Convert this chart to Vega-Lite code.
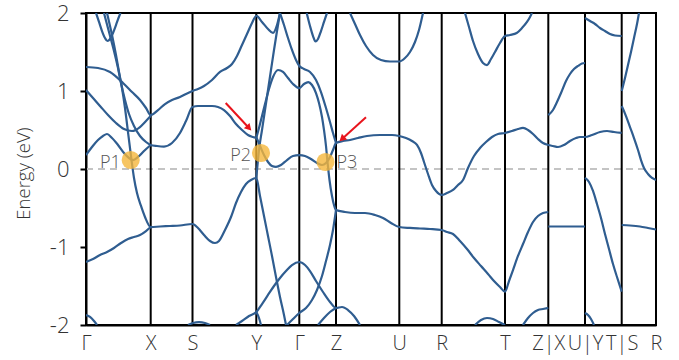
{
  "$schema": "https://vega.github.io/schema/vega-lite/v6.json",
  "width": 570,
  "height": 312,
  "autosize": "none",
  "padding": {"left": 86, "top": 13, "right": 23, "bottom": 35},
  "background": "white",
  "config": {"view": {"stroke": "black", "strokeWidth": 2}, "font": "Open Sans"},
  "datasets": {
    "kpath": [
      {"k": 0, "lab": "Γ"}, {"k": 64.7, "lab": "X"}, {"k": 106.5, "lab": "S"}, {"k": 170.3, "lab": "Y"},
      {"k": 213.3, "lab": "Γ"}, {"k": 250, "lab": "Z"}, {"k": 313.3, "lab": "U"}, {"k": 355.7, "lab": "R"},
      {"k": 419, "lab": "T"}, {"k": 462.3, "lab": "Z|X"}, {"k": 499, "lab": "U|Y"}, {"k": 535.7, "lab": "T|S"},
      {"k": 570, "lab": "R"}
    ],
    "fermi": [{"k": 0, "e": 0}, {"k": 570, "e": 0}],
    "crossings": [
      {"name": "P1", "k": 44.7, "e": 0.115},
      {"name": "P2", "k": 175, "e": 0.205},
      {"name": "P3", "k": 239.5, "e": 0.09}
    ],
    "arrows": [
      {"id": "a1", "k": 139.7, "e": 0.846, "k2": 163, "e2": 0.526},
      {"id": "a2", "k": 280, "e": 0.663, "k2": 256, "e2": 0.385}
    ],
    "bands": [
      {"b":"A","k":0,"e":1.308},{"b":"A","k":12,"e":1.295},{"b":"A","k":24,"e":1.244},{"b":"A","k":37,"e":1.103},{"b":"A","k":46,"e":0.987},{"b":"A","k":54,"e":0.885},{"b":"A","k":60,"e":0.782},{"b":"A","k":64.7,"e":0.692},
      {"b":"A","k":72,"e":0.756},{"b":"A","k":79,"e":0.833},{"b":"A","k":86,"e":0.885},{"b":"A","k":94,"e":0.923},{"b":"A","k":100,"e":0.962},{"b":"A","k":106.5,"e":1.0},
      {"b":"A","k":112,"e":1.026},{"b":"A","k":118,"e":1.064},{"b":"A","k":126,"e":1.141},{"b":"A","k":134,"e":1.244},{"b":"A","k":141,"e":1.295},{"b":"A","k":146,"e":1.346},{"b":"A","k":151,"e":1.449},{"b":"A","k":156,"e":1.59},{"b":"A","k":161,"e":1.731},{"b":"A","k":166,"e":1.872},{"b":"A","k":170.3,"e":1.962},
      {"b":"A","k":176,"e":1.885},{"b":"A","k":182,"e":1.795},{"b":"A","k":187,"e":1.744},{"b":"A","k":191,"e":1.846},{"b":"A","k":194,"e":2.0},

      {"b":"B","k":0,"e":1.013},{"b":"B","k":7,"e":0.91},{"b":"B","k":14,"e":0.808},{"b":"B","k":22,"e":0.692},{"b":"B","k":30,"e":0.59},{"b":"B","k":38,"e":0.513},{"b":"B","k":46,"e":0.487},{"b":"B","k":54,"e":0.538},{"b":"B","k":60,"e":0.615},{"b":"B","k":64.7,"e":0.679},

      {"b":"C","k":18,"e":2.0},{"b":"C","k":23,"e":1.756},{"b":"C","k":28,"e":1.513},{"b":"C","k":32,"e":1.295},{"b":"C","k":35,"e":1.103},{"b":"C","k":39,"e":0.885},{"b":"C","k":43,"e":0.705},{"b":"C","k":48,"e":0.551},{"b":"C","k":54,"e":0.423},{"b":"C","k":60,"e":0.346},{"b":"C","k":64.7,"e":0.308},
      {"b":"C","k":71,"e":0.295},{"b":"C","k":78,"e":0.288},{"b":"C","k":86,"e":0.333},{"b":"C","k":94,"e":0.462},{"b":"C","k":100,"e":0.615},{"b":"C","k":106.5,"e":0.795},
      {"b":"C","k":112,"e":0.808},{"b":"C","k":119,"e":0.808},{"b":"C","k":126,"e":0.808},{"b":"C","k":132,"e":0.795},{"b":"C","k":138,"e":0.756},{"b":"C","k":144,"e":0.679},{"b":"C","k":150,"e":0.577},{"b":"C","k":156,"e":0.5},{"b":"C","k":162,"e":0.436},{"b":"C","k":167,"e":0.41},{"b":"C","k":170.3,"e":0.397},
      {"b":"C","k":174,"e":0.295},{"b":"C","k":178,"e":0.179},{"b":"C","k":182,"e":0.09},{"b":"C","k":186,"e":0.038},{"b":"C","k":190,"e":0.026},{"b":"C","k":195,"e":0.051},{"b":"C","k":201,"e":0.115},{"b":"C","k":207,"e":0.167},{"b":"C","k":213.3,"e":0.179},
      {"b":"C","k":219,"e":0.167},{"b":"C","k":225,"e":0.128},{"b":"C","k":231,"e":0.077},{"b":"C","k":236,"e":0.051},{"b":"C","k":240,"e":0.077},{"b":"C","k":244,"e":0.154},{"b":"C","k":247,"e":0.244},{"b":"C","k":250,"e":0.333},
      {"b":"C","k":257,"e":0.359},{"b":"C","k":264,"e":0.372},{"b":"C","k":272,"e":0.397},{"b":"C","k":281,"e":0.423},{"b":"C","k":294,"e":0.436},{"b":"C","k":306,"e":0.436},{"b":"C","k":313.3,"e":0.423},
      {"b":"C","k":320,"e":0.397},{"b":"C","k":326,"e":0.359},{"b":"C","k":331,"e":0.308},{"b":"C","k":335,"e":0.205},{"b":"C","k":338,"e":0.09},{"b":"C","k":342,"e":-0.064},{"b":"C","k":346,"e":-0.205},{"b":"C","k":350,"e":-0.282},{"b":"C","k":355.7,"e":-0.333},
      {"b":"C","k":361,"e":-0.308},{"b":"C","k":367,"e":-0.269},{"b":"C","k":372,"e":-0.205},{"b":"C","k":377,"e":-0.141},{"b":"C","k":382,"e":0.013},{"b":"C","k":388,"e":0.167},{"b":"C","k":394,"e":0.269},{"b":"C","k":400,"e":0.346},{"b":"C","k":406,"e":0.41},{"b":"C","k":412,"e":0.449},{"b":"C","k":419,"e":0.462},
      {"b":"C","k":426,"e":0.487},{"b":"C","k":432,"e":0.513},{"b":"C","k":437,"e":0.526},{"b":"C","k":442,"e":0.5},{"b":"C","k":447,"e":0.449},{"b":"C","k":452,"e":0.385},{"b":"C","k":457,"e":0.333},{"b":"C","k":462.3,"e":0.308},
      {"b":"C","k":467,"e":0.295},{"b":"C","k":472,"e":0.282},{"b":"C","k":478,"e":0.308},{"b":"C","k":484,"e":0.359},{"b":"C","k":490,"e":0.397},{"b":"C","k":494,"e":0.41},{"b":"C","k":499,"e":0.41},
      {"b":"C","k":506,"e":0.436},{"b":"C","k":514,"e":0.474},{"b":"C","k":521,"e":0.487},{"b":"C","k":528,"e":0.474},{"b":"C","k":535.7,"e":0.462},

      {"b":"D","k":21,"e":2.0},{"b":"D","k":26,"e":1.718},{"b":"D","k":30,"e":1.462},{"b":"D","k":33,"e":1.244},{"b":"D","k":36,"e":1.038},{"b":"D","k":39,"e":0.782},{"b":"D","k":42,"e":0.474},{"b":"D","k":45.5,"e":0.115},{"b":"D","k":48,"e":-0.115},{"b":"D","k":51,"e":-0.308},{"b":"D","k":55,"e":-0.474},{"b":"D","k":59,"e":-0.615},{"b":"D","k":64.7,"e":-0.744},
      {"b":"D","k":74,"e":-0.737},{"b":"D","k":84,"e":-0.731},{"b":"D","k":94,"e":-0.724},{"b":"D","k":106.5,"e":-0.705},
      {"b":"D","k":112,"e":-0.756},{"b":"D","k":118,"e":-0.846},{"b":"D","k":124,"e":-0.923},{"b":"D","k":129,"e":-0.949},{"b":"D","k":133,"e":-0.923},{"b":"D","k":139,"e":-0.782},{"b":"D","k":145,"e":-0.615},{"b":"D","k":150,"e":-0.436},{"b":"D","k":155,"e":-0.295},{"b":"D","k":160,"e":-0.192},{"b":"D","k":165,"e":-0.141},{"b":"D","k":170.3,"e":-0.115},
      {"b":"D","k":174,"e":-0.346},{"b":"D","k":178,"e":-0.603},{"b":"D","k":182,"e":-0.859},{"b":"D","k":186,"e":-1.115},{"b":"D","k":190,"e":-1.385},{"b":"D","k":194,"e":-1.641},{"b":"D","k":198,"e":-1.872},{"b":"D","k":200,"e":-2.0},

      {"b":"E","k":0,"e":0.179},{"b":"E","k":6,"e":0.282},{"b":"E","k":12,"e":0.372},{"b":"E","k":17,"e":0.423},{"b":"E","k":21,"e":0.449},{"b":"E","k":26,"e":0.397},{"b":"E","k":32,"e":0.308},{"b":"E","k":38,"e":0.205},{"b":"E","k":43,"e":0.141},{"b":"E","k":47,"e":0.115},{"b":"E","k":52,"e":0.154},{"b":"E","k":58,"e":0.231},{"b":"E","k":64.7,"e":0.308},

      {"b":"F","k":0,"e":-1.192},{"b":"F","k":7,"e":-1.154},{"b":"F","k":14,"e":-1.103},{"b":"F","k":21,"e":-1.064},{"b":"F","k":28,"e":-1.013},{"b":"F","k":35,"e":-0.949},{"b":"F","k":42,"e":-0.897},{"b":"F","k":48,"e":-0.872},{"b":"F","k":54,"e":-0.846},{"b":"F","k":60,"e":-0.795},{"b":"F","k":64.7,"e":-0.744},

      {"b":"L1","k":170.3,"e":-0.115},{"b":"L1","k":171.5,"e":0.051},{"b":"L1","k":173,"e":0.244},{"b":"L1","k":176,"e":0.5},{"b":"L1","k":179,"e":0.756},{"b":"L1","k":182,"e":1.013},{"b":"L1","k":185,"e":1.269},{"b":"L1","k":188,"e":1.526},{"b":"L1","k":191,"e":1.769},{"b":"L1","k":194,"e":2.0},

      {"b":"G1","k":194,"e":2.0},{"b":"G1","k":198,"e":1.846},{"b":"G1","k":202,"e":1.679},{"b":"G1","k":206,"e":1.526},{"b":"G1","k":210,"e":1.397},{"b":"G1","k":213.3,"e":1.321},{"b":"G1","k":218,"e":1.282},{"b":"G1","k":224,"e":1.244},{"b":"G1","k":230,"e":1.141},{"b":"G1","k":235,"e":0.987},{"b":"G1","k":240,"e":0.782},{"b":"G1","k":244,"e":0.603},{"b":"G1","k":247,"e":0.462},{"b":"G1","k":250,"e":0.333},

      {"b":"L2","k":170.3,"e":0.397},{"b":"L2","k":173,"e":0.526},{"b":"L2","k":176,"e":0.679},{"b":"L2","k":179,"e":0.833},{"b":"L2","k":183,"e":1.026},{"b":"L2","k":187,"e":1.179},{"b":"L2","k":192,"e":1.269},{"b":"L2","k":197,"e":1.244},{"b":"L2","k":202,"e":1.167},{"b":"L2","k":207,"e":1.09},{"b":"L2","k":213.3,"e":1.038},
      {"b":"L2","k":218,"e":1.09},{"b":"L2","k":222.3,"e":1.115},{"b":"L2","k":226,"e":1.077},{"b":"L2","k":230,"e":0.974},{"b":"L2","k":233,"e":0.846},{"b":"L2","k":236,"e":0.667},{"b":"L2","k":238,"e":0.5},{"b":"L2","k":240,"e":0.295},{"b":"L2","k":241.5,"e":0.09},{"b":"L2","k":243.5,"e":-0.141},{"b":"L2","k":246,"e":-0.346},{"b":"L2","k":248,"e":-0.462},{"b":"L2","k":250,"e":-0.526},
      {"b":"L2","k":259,"e":-0.551},{"b":"L2","k":269,"e":-0.564},{"b":"L2","k":279,"e":-0.564},{"b":"L2","k":289,"e":-0.59},{"b":"L2","k":297,"e":-0.628},{"b":"L2","k":305,"e":-0.692},{"b":"L2","k":313.3,"e":-0.744},
      {"b":"L2","k":324,"e":-0.756},{"b":"L2","k":334,"e":-0.763},{"b":"L2","k":344,"e":-0.769},{"b":"L2","k":355.7,"e":-0.782},
      {"b":"L2","k":361,"e":-0.808},{"b":"L2","k":367,"e":-0.833},{"b":"L2","k":374,"e":-0.923},{"b":"L2","k":381,"e":-1.026},{"b":"L2","k":388,"e":-1.141},{"b":"L2","k":395,"e":-1.244},{"b":"L2","k":402,"e":-1.346},{"b":"L2","k":408,"e":-1.436},{"b":"L2","k":414,"e":-1.513},{"b":"L2","k":419,"e":-1.573},
      {"b":"L2","k":423,"e":-1.436},{"b":"L2","k":427,"e":-1.295},{"b":"L2","k":432,"e":-1.115},{"b":"L2","k":437,"e":-0.962},{"b":"L2","k":442,"e":-0.808},{"b":"L2","k":447,"e":-0.679},{"b":"L2","k":452,"e":-0.603},{"b":"L2","k":457,"e":-0.564},{"b":"L2","k":462.3,"e":-0.551},

      {"b":"R1","k":201,"e":-2.0},{"b":"R1","k":206,"e":-1.936},{"b":"R1","k":213.3,"e":-1.846},{"b":"R1","k":220,"e":-1.782},{"b":"R1","k":226,"e":-1.679},{"b":"R1","k":231,"e":-1.551},{"b":"R1","k":236,"e":-1.372},{"b":"R1","k":240,"e":-1.179},{"b":"R1","k":244,"e":-0.974},{"b":"R1","k":247,"e":-0.782},{"b":"R1","k":250,"e":-0.526},

      {"b":"K","k":150,"e":-2.0},{"b":"K","k":156,"e":-1.949},{"b":"K","k":163,"e":-1.885},{"b":"K","k":170.3,"e":-1.833},{"b":"K","k":176,"e":-1.731},{"b":"K","k":182,"e":-1.615},{"b":"K","k":188,"e":-1.5},{"b":"K","k":194,"e":-1.397},{"b":"K","k":200,"e":-1.308},{"b":"K","k":206,"e":-1.231},{"b":"K","k":213.3,"e":-1.192},{"b":"K","k":219,"e":-1.231},{"b":"K","k":224,"e":-1.308},{"b":"K","k":230,"e":-1.436},{"b":"K","k":237,"e":-1.577},{"b":"K","k":244,"e":-1.705},{"b":"K","k":250,"e":-1.782},{"b":"K","k":256,"e":-1.769},{"b":"K","k":262,"e":-1.808},{"b":"K","k":268,"e":-1.885},{"b":"K","k":274,"e":-2.0},

      {"b":"YB","k":170.3,"e":-1.833},{"b":"YB","k":173,"e":-1.91},{"b":"YB","k":175,"e":-2.0},
      {"b":"ZB","k":232,"e":-2.0},{"b":"ZB","k":238,"e":-1.91},{"b":"ZB","k":244,"e":-1.833},{"b":"ZB","k":250,"e":-1.782},
      {"b":"GB","k":0,"e":-1.872},{"b":"GB","k":4,"e":-1.897},{"b":"GB","k":8,"e":-1.949},{"b":"GB","k":11,"e":-2.0},
      {"b":"SB","k":102,"e":-2.0},{"b":"SB","k":107,"e":-1.974},{"b":"SB","k":113,"e":-1.962},{"b":"SB","k":119,"e":-1.974},{"b":"SB","k":124,"e":-2.0},
      {"b":"RB","k":389,"e":-2.0},{"b":"RB","k":395,"e":-1.936},{"b":"RB","k":401,"e":-1.91},{"b":"RB","k":407,"e":-1.923},{"b":"RB","k":413,"e":-1.962},{"b":"RB","k":419,"e":-2.0},
      {"b":"TB","k":437,"e":-2.0},{"b":"TB","k":442,"e":-1.91},{"b":"TB","k":447,"e":-1.846},{"b":"TB","k":452,"e":-1.808},{"b":"TB","k":457,"e":-1.795},{"b":"TB","k":462.3,"e":-1.782},
      {"b":"UB","k":499,"e":-1.846},{"b":"UB","k":502,"e":-1.872},{"b":"UB","k":505,"e":-1.923},{"b":"UB","k":508,"e":-2.0},

      {"b":"T1","k":10,"e":2.0},{"b":"T1","k":13,"e":1.885},{"b":"T1","k":16,"e":1.769},{"b":"T1","k":19,"e":1.679},{"b":"T1","k":21.5,"e":1.641},{"b":"T1","k":24,"e":1.667},{"b":"T1","k":27,"e":1.744},{"b":"T1","k":30,"e":1.846},{"b":"T1","k":32.5,"e":1.936},{"b":"T1","k":34.5,"e":2.0},
      {"b":"T2","k":220.7,"e":2.0},{"b":"T2","k":224,"e":1.833},{"b":"T2","k":227,"e":1.705},{"b":"T2","k":229.5,"e":1.635},{"b":"T2","k":232,"e":1.667},{"b":"T2","k":235,"e":1.769},{"b":"T2","k":238,"e":1.885},{"b":"T2","k":241,"e":2.0},
      {"b":"T3","k":264,"e":2.0},{"b":"T3","k":269,"e":1.859},{"b":"T3","k":274,"e":1.718},{"b":"T3","k":280,"e":1.577},{"b":"T3","k":287,"e":1.462},{"b":"T3","k":295,"e":1.397},{"b":"T3","k":304,"e":1.378},{"b":"T3","k":313.3,"e":1.378},{"b":"T3","k":319,"e":1.423},{"b":"T3","k":324,"e":1.5},{"b":"T3","k":329,"e":1.628},{"b":"T3","k":333,"e":1.782},{"b":"T3","k":337,"e":2.0},
      {"b":"T4","k":379,"e":2.0},{"b":"T4","k":383,"e":1.821},{"b":"T4","k":387,"e":1.641},{"b":"T4","k":392,"e":1.474},{"b":"T4","k":397,"e":1.359},{"b":"T4","k":401,"e":1.333},{"b":"T4","k":405,"e":1.41},{"b":"T4","k":409,"e":1.5},{"b":"T4","k":414,"e":1.615},{"b":"T4","k":419,"e":1.705},{"b":"T4","k":424,"e":1.718},{"b":"T4","k":430.7,"e":1.744},{"b":"T4","k":436,"e":1.808},{"b":"T4","k":441,"e":1.885},{"b":"T4","k":444,"e":1.949},{"b":"T4","k":446,"e":2.0},
      {"b":"T5","k":462.3,"e":0.69},{"b":"T5","k":467,"e":0.756},{"b":"T5","k":471,"e":0.859},{"b":"T5","k":475,"e":0.974},{"b":"T5","k":480,"e":1.128},{"b":"T5","k":484,"e":1.218},{"b":"T5","k":488,"e":1.282},{"b":"T5","k":492,"e":1.321},{"b":"T5","k":496,"e":1.353},{"b":"T5","k":499,"e":1.359},
      {"b":"T6","k":499,"e":1.936},{"b":"T6","k":504,"e":1.897},{"b":"T6","k":509,"e":1.859},{"b":"T6","k":514,"e":1.808},{"b":"T6","k":519,"e":1.769},{"b":"T6","k":524,"e":1.731},{"b":"T6","k":529,"e":1.712},{"b":"T6","k":535.7,"e":1.705},
      {"b":"T7","k":535.7,"e":1.0},{"b":"T7","k":539,"e":1.167},{"b":"T7","k":542,"e":1.333},{"b":"T7","k":545,"e":1.5},{"b":"T7","k":548,"e":1.679},{"b":"T7","k":551,"e":1.859},{"b":"T7","k":553,"e":2.0},
      {"b":"T8","k":535.7,"e":0.808},{"b":"T8","k":540,"e":0.679},{"b":"T8","k":544,"e":0.538},{"b":"T8","k":548,"e":0.397},{"b":"T8","k":552,"e":0.244},{"b":"T8","k":555,"e":0.115},{"b":"T8","k":558,"e":0.013},{"b":"T8","k":562,"e":-0.064},{"b":"T8","k":566,"e":-0.115},{"b":"T8","k":570,"e":-0.141},
      {"b":"T9","k":499,"e":-0.115},{"b":"T9","k":503,"e":-0.167},{"b":"T9","k":507,"e":-0.282},{"b":"T9","k":511,"e":-0.449},{"b":"T9","k":515,"e":-0.628},{"b":"T9","k":519,"e":-0.833},{"b":"T9","k":523,"e":-1.026},{"b":"T9","k":527,"e":-1.218},{"b":"T9","k":531,"e":-1.385},{"b":"T9","k":535.7,"e":-1.573},
      {"b":"T10","k":462.3,"e":-0.737},{"b":"T10","k":480,"e":-0.737},{"b":"T10","k":499,"e":-0.737},
      {"b":"T11","k":535.7,"e":-0.718},{"b":"T11","k":544,"e":-0.724},{"b":"T11","k":554,"e":-0.737},{"b":"T11","k":562,"e":-0.756},{"b":"T11","k":570,"e":-0.776}
    ]
  },
  "encoding": {
    "x": {
      "field": "k", "type": "quantitative",
      "scale": {"domain": [0, 570], "nice": false, "zero": false},
      "axis": {
        "title": null,
        "values": [0, 64.7, 106.5, 170.3, 213.3, 250, 313.3, 355.7, 419, 462.3, 499, 535.7, 570],
        "labelExpr": "datum.value < 30 ? 'Γ' : datum.value < 80 ? 'X' : datum.value < 130 ? 'S' : datum.value < 190 ? 'Y' : datum.value < 230 ? 'Γ' : datum.value < 280 ? 'Z' : datum.value < 330 ? 'U' : datum.value < 380 ? 'R' : datum.value < 440 ? 'T' : datum.value < 480 ? 'Z|X' : datum.value < 520 ? 'U|Y' : datum.value < 550 ? 'T|S' : 'R'",
        "ticks": false, "grid": false,
        "domainColor": "black", "domainWidth": 2,
        "labelFontSize": 20, "labelPadding": 8, "labelColor": "#333333", "labelFontWeight": 300,
        "labelOverlap": false, "labelFlush": false, "labelBound": false
      }
    },
    "y": {
      "field": "e", "type": "quantitative",
      "scale": {"domain": [-2, 2], "nice": false},
      "axis": {
        "title": "Energy (eV)",
        "values": [-2, -1, 0, 1, 2],
        "labelExpr": "'' + datum.value",
        "grid": false,
        "domainColor": "black", "domainWidth": 2,
        "tickColor": "black", "tickWidth": 2, "tickSize": 6,
        "labelFontSize": 22, "labelPadding": 11, "labelColor": "#333333", "labelFontWeight": 300,
        "labelFlush": false, "labelOverlap": false,
        "titleFontSize": 18.5, "titleFontWeight": 300, "titleColor": "#333333",
        "titleX": -53, "titleY": 160
      }
    }
  },
  "layer": [
    {
      "data": {"name": "fermi"},
      "mark": {"type": "line", "color": "#c4c4c4", "strokeDash": [7, 5], "strokeWidth": 2}
    },
    {
      "data": {"name": "kpath"},
      "mark": {"type": "rule", "color": "black", "strokeWidth": 2},
      "encoding": {
        "y": null
      }
    },
    {
      "data": {"name": "bands"},
      "mark": {"type": "line", "color": "#2f5d90", "strokeWidth": 2.2, "interpolate": "monotone", "clip": true},
      "encoding": {
        "detail": {"field": "b", "type": "nominal"}
      }
    },
    {
      "data": {"name": "crossings"},
      "mark": {"type": "point", "filled": true, "size": 330, "color": "#f5b73b", "opacity": 0.8, "strokeWidth": 0}
    },
    {
      "data": {"name": "crossings"},
      "transform": [{"filter": "datum.name !== 'P3'"}],
      "mark": {"type": "text", "align": "right", "baseline": "middle", "dx": -10, "dy": 3, "fontSize": 18, "color": "#555555", "fontWeight": 300},
      "encoding": {
        "text": {"field": "name"}
      }
    },
    {
      "data": {"name": "crossings"},
      "transform": [{"filter": "datum.name === 'P3'"}],
      "mark": {"type": "text", "align": "left", "baseline": "middle", "dx": 11, "dy": 1, "fontSize": 18, "color": "#555555", "fontWeight": 300},
      "encoding": {
        "text": {"field": "name"}
      }
    },
    {
      "data": {"name": "arrows"},
      "mark": {"type": "rule", "color": "#e8141c", "strokeWidth": 2},
      "encoding": {
        "x2": {"field": "k2"},
        "y2": {"field": "e2"}
      }
    },
    {
      "data": {"name": "arrows"},
      "transform": [{"filter": "datum.id === 'a1'"}],
      "mark": {"type": "point", "shape": "triangle-up", "filled": true, "size": 60, "color": "#e8141c", "opacity": 1, "angle": 137},
      "encoding": {
        "x": {"field": "k2", "type": "quantitative"},
        "y": {"field": "e2", "type": "quantitative"}
      }
    },
    {
      "data": {"name": "arrows"},
      "transform": [{"filter": "datum.id === 'a2'"}],
      "mark": {"type": "point", "shape": "triangle-up", "filled": true, "size": 60, "color": "#e8141c", "opacity": 1, "angle": 228},
      "encoding": {
        "x": {"field": "k2", "type": "quantitative"},
        "y": {"field": "e2", "type": "quantitative"}
      }
    }
  ]
}
